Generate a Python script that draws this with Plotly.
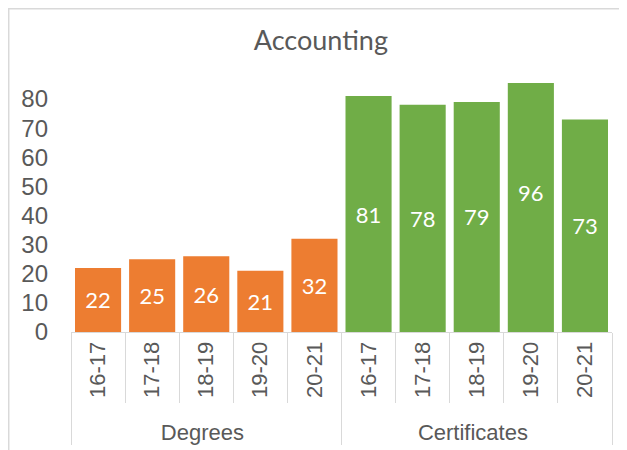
import plotly.graph_objects as go

groups = ["Degrees"] * 5 + ["Certificates"] * 5
years = ["16-17", "17-18", "18-19", "19-20", "20-21"] * 2
values = [22, 25, 26, 21, 32, 81, 78, 79, 96, 73]
group_colors = {"Degrees": "#ED7D31", "Certificates": "#70AD47"}
colors = [group_colors[g] for g in groups]

fig = go.Figure(go.Bar(
    x=[groups, years],
    y=values,
    marker=dict(color=colors, line=dict(width=0)),
    text=[str(v) for v in values],
    textposition="inside",
    insidetextanchor="middle",
    textangle=0,
    textfont=dict(family="Lato", size=22, color="white"),
    cliponaxis=True,
))

fig.update_layout(
    width=627, height=450,
    margin=dict(l=63, r=23, t=75, b=126, autoexpand=False),
    paper_bgcolor="white", plot_bgcolor="white",
    bargap=0.148,
    showlegend=False,
    title=dict(text="Accounting", x=0.499, xanchor="center", y=0.927, yanchor="middle",
               font=dict(family="Lato", size=27, color="#595959")),
    shapes=[dict(type="rect", xref="paper", yref="paper",
                 x0=-0.1151, x1=1.2, y0=-0.6, y1=1.298,
                 line=dict(color="#d9d9d9", width=1.5), fillcolor="rgba(0,0,0,0)")],
)
fig.update_xaxes(
    type="multicategory", automargin=False,
    showline=True, linecolor="#d9d9d9", linewidth=1,
    ticks="outside", ticklen=70, tickcolor="#d9d9d9",
    tickangle=-90,
    showdividers=True, dividercolor="#d9d9d9", dividerwidth=1,
    tickfont=dict(family="Liberation Sans", size=22, color="#595959"),
    showgrid=False,
)
fig.update_yaxes(
    automargin=False,
    range=[0, 85.5], dtick=10, showgrid=False, zeroline=False, showline=False,
    ticks="", ticklabelstandoff=22,
    tickfont=dict(family="Liberation Sans", size=24, color="#595959"),
)

fig.write_html("out.html")
